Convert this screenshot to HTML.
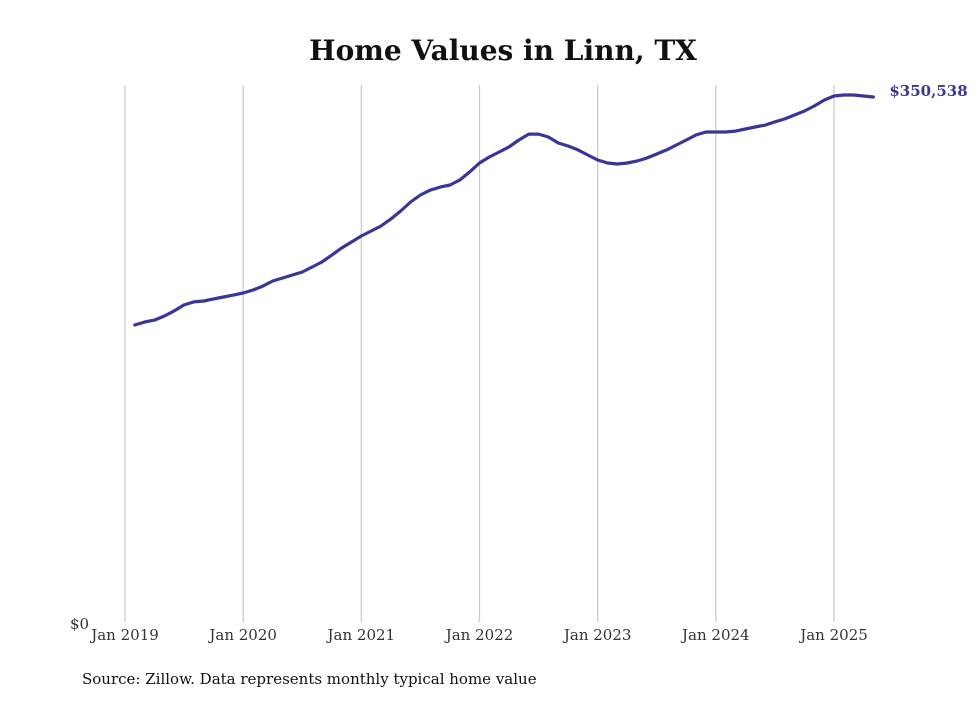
<!DOCTYPE html>
<html><head><meta charset="utf-8"><style>
html,body{margin:0;padding:0;background:#fff}
svg text{font-family:"DejaVu Serif","Liberation Serif",serif}
</style></head><body>
<svg width="980" height="699" viewBox="0 0 980 699" xmlns="http://www.w3.org/2000/svg">
<rect width="980" height="699" fill="#fff"/>
<text x="503" y="60" text-anchor="middle" font-size="28" font-weight="bold" fill="#111">Home Values in Linn, TX</text>
<g id="grid"></g>
<g id="xlabels"></g>
<text x="70" y="629" font-size="15" fill="#333">$0</text>
<path id="line" fill="none" stroke="#3a3596" stroke-width="3.2" stroke-linejoin="round" stroke-linecap="round"/>
<text id="endlabel" font-size="15" font-weight="bold" fill="#3a3596"></text>
<text x="82" y="684" font-size="15" fill="#111">Source: Zillow. Data represents monthly typical home value</text>
</svg>
<script>
const yearLabels = ["Jan 2019","Jan 2020","Jan 2021","Jan 2022","Jan 2023","Jan 2024","Jan 2025"];
const startMonth = 1; // Feb 2019, months since Jan 2019
const values = [198.3,200.3,201.6,204.3,207.7,211.7,213.7,214.3,215.7,217.0,218.3,219.7,
221.7,224.3,227.7,229.7,231.7,233.7,237.0,240.4,245.0,249.7,253.7,257.7,
261.1,264.4,269.1,274.4,280.4,285.1,288.4,290.4,291.8,295.1,300.5,306.5,
310.5,313.8,317.2,321.8,325.8,325.8,323.8,319.8,317.8,315.2,311.8,308.5,
306.5,305.8,306.5,307.8,309.8,312.5,315.2,318.5,321.8,325.2,327.2,327.2,
327.2,327.8,329.2,330.5,331.8,333.9,335.9,338.5,341.2,344.5,348.5,351.2,
351.9,351.9,351.2,350.538];
const latestLabel = "$350,538";
const NS="http://www.w3.org/2000/svg";
const xOf = m => 125 + m*(709/72);
const yOf = v => 622 - v*(525/350.538);
const grid=document.getElementById('grid'), xl=document.getElementById('xlabels');
yearLabels.forEach((t,i)=>{
  const x=xOf(i*12);
  const l=document.createElementNS(NS,'line');
  l.setAttribute('x1',x);l.setAttribute('x2',x);l.setAttribute('y1',85);l.setAttribute('y2',622);
  l.setAttribute('stroke','#c8c8c8');l.setAttribute('stroke-width','1.2');
  
  
  grid.appendChild(l);
  const tx=document.createElementNS(NS,'text');
  tx.setAttribute('x',x);tx.setAttribute('y',640);tx.setAttribute('text-anchor','middle');
  tx.setAttribute('font-size','15');tx.setAttribute('fill','#333');tx.textContent=t;
  
  
  xl.appendChild(tx);
});
let d='';
values.forEach((v,i)=>{d+=(i?'L':'M')+xOf(startMonth+i).toFixed(1)+' '+yOf(v).toFixed(1);});
document.getElementById('line').setAttribute('d',d);
const last=values.length-1, el=document.getElementById('endlabel');
el.setAttribute('x',xOf(startMonth+last)+16);
el.setAttribute('y',yOf(values[last])-1);
el.textContent=latestLabel;
</script>
</body></html>
